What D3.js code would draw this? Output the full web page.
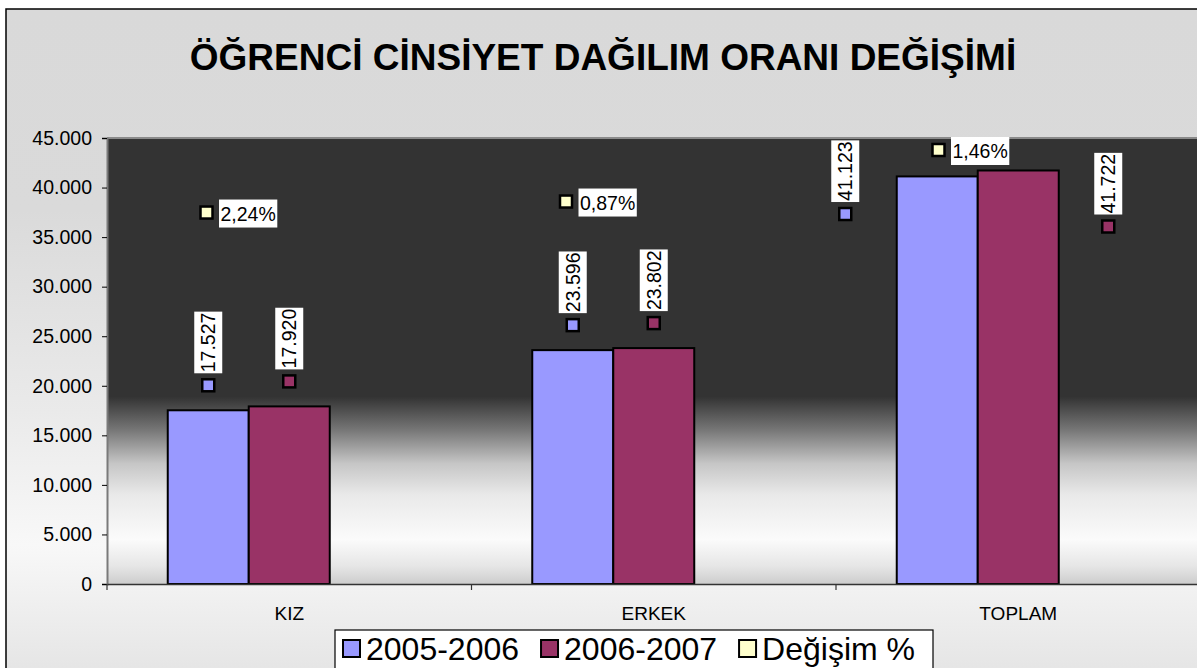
<!DOCTYPE html>
<html>
<head>
<meta charset="utf-8">
<title>Öğrenci Cinsiyet Dağılım Oranı Değişimi</title>
<style>
	body { margin: 0; background: #fff; }
	svg text { font-family: "Liberation Sans", Arial, sans-serif; fill: #000; }
</style>
</head>
<body>
<svg id="canvas" width="1197" height="668"></svg>
<script src="https://cdn.jsdelivr.net/npm/d3@7"></script>
<script>
	let categories = ["KIZ", "ERKEK", "TOPLAM"];
	let seriesNames = ["2005-2006", "2006-2007", "Değişim %"];
	let students0506 = [17527, 23596, 41123];
	let students0607 = [17920, 23802, 41722];
	let changePct = [2.24, 0.87, 1.46];
	let yTicks = [0, 5000, 10000, 15000, 20000, 25000, 30000, 35000, 40000, 45000];

	let colors = ["#9999ff", "#993366", "#ffffcc"];
	let seriesValues = [students0506, students0607, changePct];

	let svg = d3.select("#canvas");
	let plot = {left: 107, right: 1200.5, top: 138, bottom: 584};

	// turkish number format: 45.000 and 2,24
	let tr = d3.formatLocale({decimal: ",", thousands: ".", grouping: [3], currency: ["", ""]});
	let fmtInt = tr.format(",d");
	let fmtPct = tr.format(".2f");

	// gradients
	let defs = svg.append("defs");
	function gradient(id, stops) {
		let g = defs.append("linearGradient").attr("id", id)
			.attr("x1", 0).attr("y1", 0).attr("x2", 0).attr("y2", 1);
		stops.forEach(function(s){
			g.append("stop").attr("offset", s[0]).attr("stop-color", s[1]);
		});
	}
	gradient("bgGrad", [[0, "#d9d9d9"], [0.3, "#dadada"], [0.6, "#eaeaea"], [0.8, "#f8f8f8"], [1, "#e4e4e4"]]);
	gradient("plotGrad", [[0, "#333333"], [0.58, "#333333"], [0.655, "#777777"], [0.73, "#c6c6c6"],
		[0.8, "#e9e9e9"], [0.9, "#fbfbfb"], [0.96, "#e6e6e6"], [1, "#cdcdcd"]]);

	// chart area
	svg.append("rect")
		.attr("x", 6).attr("y", 9).attr("width", 1200).attr("height", 670)
		.attr("fill", "url(#bgGrad)")
		.attr("stroke", "#000").attr("stroke-width", 1.5);

	svg.append("text")
		.attr("x", 603).attr("y", 70)
		.attr("text-anchor", "middle")
		.style("font-size", "37px").style("font-weight", "bold")
		.text("ÖĞRENCİ CİNSİYET DAĞILIM ORANI DEĞİŞİMİ");

	// scales
	let x0 = d3.scaleBand().domain(categories).range([plot.left, plot.right]);
	// excel gap width 150% -> outer padding of 0.75 bar
	let x1 = d3.scaleBand().domain([0, 1, 2]).range([0, x0.bandwidth()]).paddingInner(0).paddingOuter(0.75);
	let y = d3.scaleLinear().domain([0, 45000]).range([plot.bottom, plot.top]);

	// plot area
	svg.append("rect")
		.attr("x", plot.left).attr("y", plot.top)
		.attr("width", 1197 - plot.left).attr("height", plot.bottom - plot.top)
		.attr("fill", "url(#plotGrad)");
	svg.append("line")
		.attr("x1", plot.left).attr("x2", 1197)
		.attr("y1", plot.top).attr("y2", plot.top)
		.attr("stroke", "#8a8a8a").attr("stroke-width", 2);

	// axes
	let yAxis = svg.append("g")
		.attr("transform", "translate(" + plot.left + ",0)")
		.call(d3.axisLeft(y).tickValues(yTicks).tickFormat(fmtInt).tickSize(5).tickPadding(10));
	yAxis.select(".domain").attr("stroke", "#7a7a7a").attr("stroke-width", 2);
	yAxis.selectAll("text").style("font-size", "19.5px").attr("font-family", null);

	// bars (percent series is on the same axis, so it stays flat on the baseline)
	seriesValues.forEach(function(vals, s){
		svg.append("g").selectAll("rect")
			.data(vals)
			.enter().append("rect")
			.attr("x", function(d, i){ return x0(categories[i]) + x1(s); })
			.attr("y", function(d){ return y(d); })
			.attr("width", x1.bandwidth())
			.attr("height", function(d){ return plot.bottom - y(d); })
			.attr("fill", colors[s])
			.attr("stroke", s < 2 ? "#000" : "none").attr("stroke-width", 2);
	});

	let xAxis = svg.append("g")
		.attr("transform", "translate(0," + plot.bottom + ")")
		.call(d3.axisBottom(x0).tickSize(0).tickPadding(23));
	xAxis.select(".domain").attr("stroke", "#333").attr("stroke-width", 1.5);
	xAxis.selectAll("text").style("font-size", "19px").attr("font-family", null);
	xAxis.selectAll(".sep")
		.data(categories.map(function(c){ return x0(c); }).concat([plot.right]))
		.enter().append("line")
		.attr("x1", function(d){ return d; }).attr("x2", function(d){ return d; })
		.attr("y1", 0).attr("y2", 6)
		.attr("stroke", "#333").attr("stroke-width", 1.2);

	// data labels with legend keys
	function barCenter(i, s) { return x0(categories[i]) + x1(s) + x1.bandwidth() / 2; }

	// labels that were dragged in the original: [dx from bar centre, y value]
	let movedLabels = {2: [[-92, 37330], [90, 36070]]};
	// percent labels: [dx from band start, y value]
	let pctLabelAt = [[99.5, 37480], [94.5, 38590], [102.5, 43790]];

	function key(g, color) {
		g.append("rect")
			.attr("x", -6).attr("y", -6).attr("width", 12).attr("height", 12)
			.attr("fill", color).attr("stroke", "#000").attr("stroke-width", 2.5);
	}

	function rotatedLabel(cx, cy, txt, color) {
		let g = svg.append("g").attr("transform", "translate(" + cx + "," + cy + ")");
		key(g, color);
		let r = g.append("g").attr("transform", "rotate(-90)");
		let box = r.append("rect");
		let t = r.append("text")
			.attr("x", 13).attr("y", 0)
			.attr("dominant-baseline", "central")
			.style("font-size", "19.5px")
			.text(txt);
		let len = t.node().getComputedTextLength();
		box.attr("x", 12).attr("y", -14).attr("width", len + 2).attr("height", 28).attr("fill", "#fff");
	}

	function flatLabel(cx, cy, txt, color) {
		let g = svg.append("g").attr("transform", "translate(" + cx + "," + cy + ")");
		key(g, color);
		let box = g.append("rect");
		let t = g.append("text")
			.attr("x", 14).attr("y", 1)
			.attr("dominant-baseline", "central")
			.style("font-size", "19.5px")
			.text(txt);
		let len = t.node().getComputedTextLength();
		box.attr("x", 12.5).attr("y", -13).attr("width", len + 3).attr("height", 28).attr("fill", "#fff");
	}

	[students0506, students0607].forEach(function(vals, s){
		vals.forEach(function(v, i){
			let cx = barCenter(i, s), cy = y(v) - 25;
			if (movedLabels[i]) {
				cx = barCenter(i, s) + movedLabels[i][s][0];
				cy = y(movedLabels[i][s][1]);
			}
			rotatedLabel(cx, cy, fmtInt(v), colors[s]);
		});
	});

	changePct.forEach(function(v, i){
		flatLabel(x0(categories[i]) + pctLabelAt[i][0], y(pctLabelAt[i][1]), fmtPct(v) + "%", colors[2]);
	});

	// legend
	let legend = svg.append("g");
	legend.append("rect")
		.attr("x", 335).attr("y", 630).attr("width", 598).attr("height", 60)
		.attr("fill", "#fff").attr("stroke", "#000").attr("stroke-width", 1.2);
	let lx = 343;
	seriesNames.forEach(function(name, s){
		legend.append("rect")
			.attr("x", lx).attr("y", 640).attr("width", 17).attr("height", 17)
			.attr("fill", colors[s]).attr("stroke", "#000").attr("stroke-width", 2);
		let t = legend.append("text")
			.attr("x", lx + 23).attr("y", 660)
			.style("font-size", "32px")
			.text(name);
		lx += 23 + t.node().getComputedTextLength() + 22;
	});
</script>
</body>
</html>
